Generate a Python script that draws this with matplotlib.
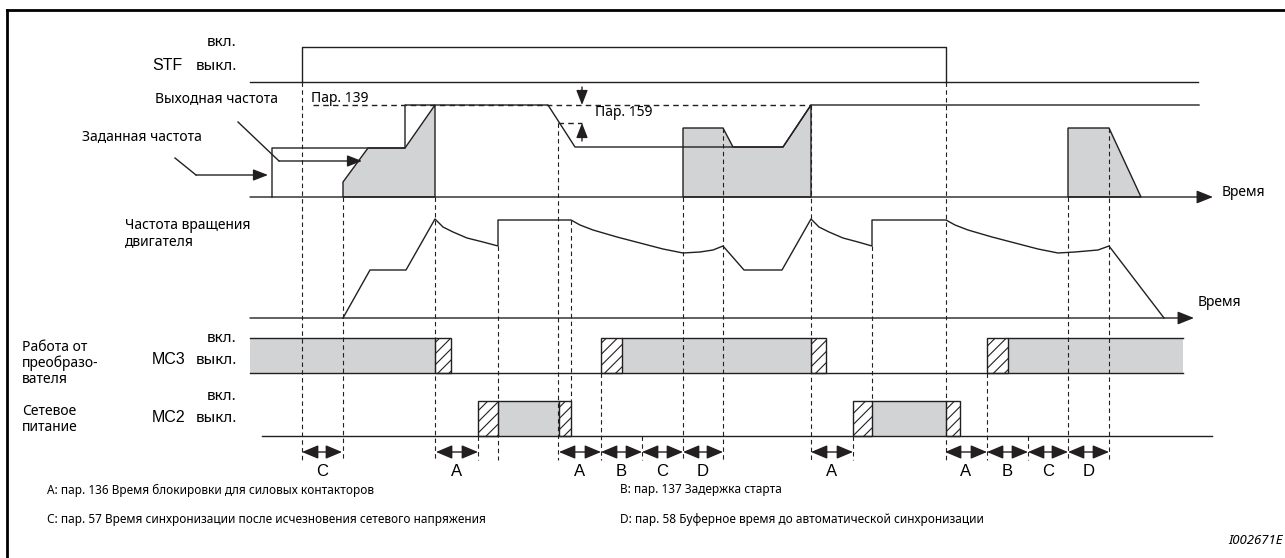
import matplotlib
matplotlib.use('Agg')
import matplotlib.pyplot as plt
from matplotlib.patches import Rectangle, Polygon

plt.rcParams['hatch.linewidth'] = 0.8
plt.rcParams['hatch.color'] = '#231f20'

LINE = '#231f20'
GREY = '#d1d3d4'
SANS = ['Noto Sans', 'DejaVu Sans']
ARIAL = ['Liberation Sans', 'DejaVu Sans']

# ---- timing data (x = time position, y = signal level on the sheet) ----
stf_on, stf_off = 302, 946
stf_hi, stf_lo = 47, 82

# output frequency panel
out_base = 197
out_top = 105
set_freq_x = [272, 272, 405, 405, 548, 575, 783, 811, 1199]
set_freq_y = [197, 148, 148, 105, 105, 147, 147, 105, 105]
out1_x = [343, 343, 368, 405, 435, 435]
out1_y = [197, 182, 148, 148, 105, 197]
out2_x = [683, 683, 723, 733, 783, 811, 811]
out2_y = [197, 128, 128, 147, 147, 105, 197]
out3_x = [1068, 1068, 1109, 1141]
out3_y = [197, 128, 128, 197]

# motor speed panel (coasting curves read point by point)
spd_base = 318
spd_x = [343, 370, 406, 435, 439, 443, 453, 467, 483, 498, 498, 571,
         580, 593, 617, 640, 663, 683, 700, 713, 723, 744, 782, 811,
         815, 819, 829, 843, 858, 872, 872, 946,
         955, 968, 992, 1015, 1038, 1058, 1075, 1098, 1109, 1164]
spd_y = [318, 270, 270, 219, 223, 227, 232, 238, 242, 246, 220, 220,
         225, 230, 237, 243, 249, 253, 252, 250, 246, 270, 270, 219,
         223, 227, 232, 238, 242, 246, 220, 220,
         225, 230, 237, 243, 249, 253, 252, 250, 246, 318]

# contactors: (start, end) of "on" phases
mc3_hi, mc3_lo = 338, 373
mc3_on = [(250, 435), (622, 811), (1008, 1183)]
mc3_hatch = [(435, 451), (601, 622), (811, 826), (987, 1008)]
mc2_hi, mc2_lo = 401, 436
mc2_on = [(498, 559), (872, 946)]
mc2_hatch = [(478, 498), (559, 571), (853, 872), (946, 960)]

# dashed guide lines: (x, top, bottom)
guides = [(302, 82, 460), (343, 197, 460), (435, 197, 460), (478, 436, 460),
          (498, 246, 460), (558, 123, 460), (571, 220, 401), (601, 373, 460),
          (642, 436, 460), (683, 197, 460), (723, 128, 460), (811, 105, 460),
          (853, 436, 460), (872, 246, 401), (946, 82, 460), (987, 373, 460),
          (1028, 436, 460), (1068, 197, 460), (1109, 128, 460)]

# time intervals
intervals = [(302, 342, 'C'), (436, 478, 'A'), (559, 601, 'A'), (601, 642, 'B'),
             (642, 683, 'C'), (683, 723, 'D'), (811, 853, 'A'), (945, 987, 'A'),
             (987, 1028, 'B'), (1028, 1068, 'C'), (1068, 1109, 'D')]
legend = [
    (47, 490, 'A: пар. 136 Время блокировки для силовых контакторов'),
    (620, 490, 'B: пар. 137 Задержка старта'),
    (47, 520, 'C: пар. 57 Время синхронизации после исчезновения сетевого напряжения'),
    (620, 520, 'D: пар. 58 Буферное время до автоматической синхронизации'),
]

fig = plt.figure(figsize=(12.85, 5.58), dpi=100)
ax = fig.add_axes([0, 0, 1, 1])
ax.set_xlim(0, 1285)
ax.set_ylim(558, 0)
ax.axis('off')

lw = 1.0
dash = (0, (4, 3))
head = '-|>,head_length=0.9,head_width=0.35'

# frame
ax.plot([7, 1285], [9.5, 9.5], color='black', lw=2)
ax.plot([7, 7], [9.5, 558], color='black', lw=2)

# STF
ax.plot([250, 1198], [stf_lo, stf_lo], color=LINE, lw=lw)
ax.plot([stf_on, stf_on, stf_off, stf_off], [stf_lo, stf_hi, stf_hi, stf_lo], color=LINE, lw=lw)
ax.text(237, 42, 'вкл.', fontsize=11, family=SANS, ha='right', va='center')
ax.text(152, 66, 'STF', fontsize=11.5, family=ARIAL, ha='left', va='center')
ax.text(237, 67, 'выкл.', fontsize=11, family=SANS, ha='right', va='center')

# output frequency
for xs, ys in [(out1_x, out1_y), (out2_x, out2_y), (out3_x, out3_y)]:
    ax.add_patch(Polygon(list(zip(xs, ys)), closed=True, facecolor=GREY, edgecolor=LINE, lw=lw))
ax.plot([313, 811], [out_top, out_top], color=LINE, lw=lw, ls=dash)
ax.plot(set_freq_x, set_freq_y, color=LINE, lw=lw)
ax.annotate('', xy=(1213, out_base), xytext=(250, out_base),
            arrowprops=dict(arrowstyle='-|>,head_length=1.0,head_width=0.4', color=LINE, lw=lw,
                            shrinkA=0, shrinkB=0))
ax.text(1222, 192, 'Время', fontsize=10, family=SANS, ha='left', va='center')
ax.text(311, 98, 'Пар. 139', fontsize=10, family=SANS, ha='left', va='center')
ax.text(278, 99, 'Выходная частота', fontsize=10, family=SANS, ha='right', va='center')
ax.text(82, 137, 'Заданная частота', fontsize=10, family=SANS, ha='left', va='center')
ax.plot([238, 279], [122, 161], color=LINE, lw=lw)
ax.annotate('', xy=(362, 161), xytext=(279, 161),
            arrowprops=dict(arrowstyle=head, color=LINE, lw=lw, shrinkA=0, shrinkB=0))
ax.plot([175, 196], [158, 175], color=LINE, lw=lw)
ax.annotate('', xy=(268, 175), xytext=(196, 175),
            arrowprops=dict(arrowstyle=head, color=LINE, lw=lw, shrinkA=0, shrinkB=0))
# Pr.159 marker
ax.plot([558, 582], [123, 123], color=LINE, lw=lw, ls=dash)
ax.annotate('', xy=(582, out_top), xytext=(582, 87),
            arrowprops=dict(arrowstyle=head, color=LINE, lw=lw, shrinkA=0, shrinkB=0))
ax.annotate('', xy=(582, 123), xytext=(582, 141),
            arrowprops=dict(arrowstyle=head, color=LINE, lw=lw, shrinkA=0, shrinkB=0))
ax.text(595, 112, 'Пар. 159', fontsize=10, family=SANS, ha='left', va='center')

# motor speed
ax.plot(spd_x, spd_y, color=LINE, lw=lw)
ax.annotate('', xy=(1194, spd_base), xytext=(250, spd_base),
            arrowprops=dict(arrowstyle='-|>,head_length=1.0,head_width=0.4', color=LINE, lw=lw,
                            shrinkA=0, shrinkB=0))
ax.text(1198, 303, 'Время', fontsize=10, family=SANS, ha='left', va='center')
ax.text(125, 218, 'Частота вращения\nдвигателя', fontsize=10, family=SANS, ha='left', va='top',
        linespacing=1.1)

# contactors
for hi, lo, on, hat in [(mc3_hi, mc3_lo, mc3_on, mc3_hatch), (mc2_hi, mc2_lo, mc2_on, mc2_hatch)]:
    for a, b in on:
        ax.add_patch(Rectangle((a, hi), b - a, lo - hi, facecolor=GREY, edgecolor='none'))
        ax.plot([a, b], [hi, hi], color=LINE, lw=lw)
    for a, b in hat:
        ax.add_patch(Rectangle((a, hi), b - a, lo - hi, facecolor='white', edgecolor=LINE,
                               lw=lw, hatch='///'))
ax.plot([250, 1183], [mc3_lo, mc3_lo], color=LINE, lw=lw)
ax.plot([262, 1212], [mc2_lo, mc2_lo], color=LINE, lw=lw)

for y_on, y_off, name in [(339, 360, 'MC3'), (396, 418, 'MC2')]:
    ax.text(237, y_on, 'вкл.', fontsize=11, family=SANS, ha='right', va='center')
    ax.text(152, y_off, name, fontsize=11.5, family=ARIAL, ha='left', va='center')
    ax.text(237, y_off + 1, 'выкл.', fontsize=11, family=SANS, ha='right', va='center')
ax.text(22, 340, 'Работа от\nпреобразо-\nвателя', fontsize=10, family=SANS, ha='left', va='top',
        linespacing=1.05)
ax.text(22, 404, 'Сетевое\nпитание', fontsize=10, family=SANS, ha='left', va='top',
        linespacing=1.05)

# guides
for x, y0, y1 in guides:
    ax.plot([x, x], [y0, y1], color=LINE, lw=0.8, ls=dash)

# intervals
for a, b, lab in intervals:
    ax.annotate('', xy=(b, 452), xytext=(a, 452),
                arrowprops=dict(arrowstyle='<|-|>,head_length=1.0,head_width=0.42', color=LINE,
                                lw=lw, shrinkA=0, shrinkB=0))
    ax.text((a + b) / 2, 472, lab, fontsize=12, family=ARIAL, ha='center', va='center')

for x, y, s in legend:
    ax.text(x, y, s, fontsize=8.5, family=SANS, ha='left', va='center')
ax.text(1283, 541, 'I002671E', fontsize=9.5, family=SANS, style='italic', ha='right', va='center')

fig.savefig('out.png', dpi=100)
